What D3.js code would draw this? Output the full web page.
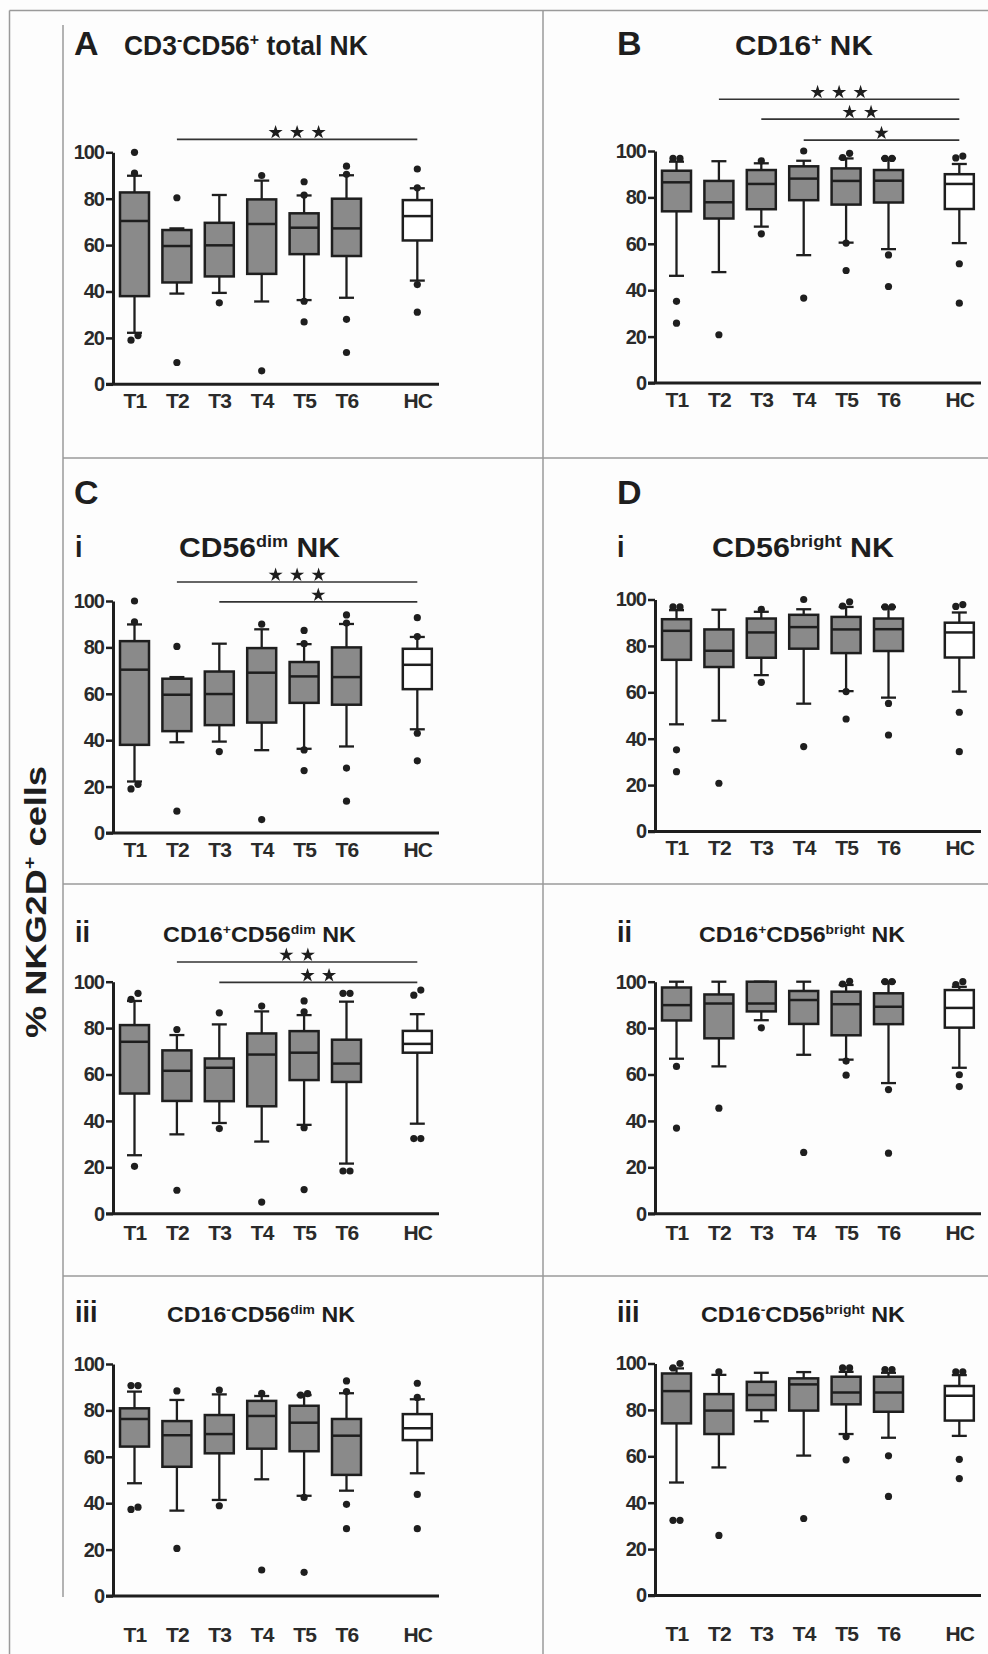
<!DOCTYPE html>
<html>
<head>
<meta charset="utf-8">
<script src="https://cdn.jsdelivr.net/npm/d3@7"></script>
<style>
  body { margin: 0; background: #fdfdfd; }
  svg { display: block; font-family: "Liberation Sans", Arial, sans-serif; }
</style>
</head>
<body>
<svg id="fig" width="988" height="1654"></svg>
<script>
// groups and y ticks
var categories = ["T1", "T2", "T3", "T4", "T5", "T6", "HC"];
var yTicks = [0, 20, 40, 60, 80, 100];

// box stats per group: [whisker low, q1, median, q3, whisker high]
// outliers per group, significance: [from group (to HC), height in %, stars]
var totalNK_box = [[22.2, 38, 70.4, 82.7, 89.9], [39.1, 43.9, 59.6, 66.5, 67.2], [39.4, 46.5, 59.9, 69.6, 81.6],
  [35.7, 47.6, 69.1, 79.7, 87.8], [36.3, 56.1, 67.5, 73.7, 81.4], [37.3, 55.3, 67.2, 80, 90.1], [44.7, 62, 72.5, 79.4, 84.5]];
var totalNK_out = [[100, 91, 21, 19], [80.4, 9.4], [35.1], [90, 5.8], [87.3, 81.6, 35.8, 26.9], [94, 90.5, 28, 13.7], [92.8, 84.7, 43, 31.1]];
var totalNK_sig = [["T2", 105.6, 3]];

var cd16_box = [[46.2, 74, 86.5, 91.5, 95.4], [47.8, 70.9, 77.9, 87.1, 95.6], [67.4, 74.9, 85.8, 91.8, 94.7],
  [55.1, 78.8, 88.1, 93.4, 95.8], [60.5, 76.9, 87.1, 92.5, 96.8], [57.7, 77.8, 87.2, 91.8, 96.8], [60.3, 75, 85.8, 90, 94.4]];
var cd16_out = [[96.8, 96.8, 35.2, 25.8], [20.8], [95.8, 64.3], [100, 36.6], [97.2, 99, 60.3, 48.5], [96.8, 96.8, 55.2, 41.6], [97, 97.8, 51.4, 34.4]];
var cd16_sig = [["T2", 122.3, 3], ["T3", 113.7, 2], ["T4", 104.7, 1]];

// CD56dim and CD56bright plots repeat the values shown in A and B
var cd56dim_box = totalNK_box, cd56dim_out = totalNK_out;
var cd56dim_sig = [["T2", 108.2, 3], ["T3", 99.6, 1]];
var cd56bright_box = cd16_box, cd56bright_out = cd16_out;

var dimPos_box = [[25.2, 51.8, 74.1, 81.3, 91.7], [34.2, 48.6, 61.6, 70.4, 77], [39.1, 48.5, 62.9, 66.9, 81.6],
  [31.1, 46.3, 68.6, 77.7, 87.2], [38.3, 57.6, 69.4, 78.7, 85.6], [21.6, 56.8, 64.7, 75, 91.4], [38.8, 69.4, 73.2, 78.8, 86]];
var dimPos_out = [[95, 92.4, 20.4], [79.4, 10.1], [86.6, 36.7], [89.5, 5], [91.7, 87, 37.1, 10.4], [95, 95, 18.4, 18.4], [96.4, 94.2, 32.4, 32.4]];
var dimPos_sig = [["T2", 108.5, 2], ["T3", 99.7, 2]];

var brightPos_box = [[66.8, 83.3, 89.9, 97.5, 100], [63.5, 75.6, 90.6, 94.5, 100], [83.4, 87.2, 90.6, 100, 100],
  [68.5, 81.8, 92.1, 96, 100], [66.4, 76.9, 90.3, 95.7, 98.6], [56.3, 81.7, 89.2, 95, 100], [62.9, 80.2, 88.7, 96.4, 97.8]];
var brightPos_out = [[63.5, 36.9], [45.5], [80.1], [26.4], [99, 100.2, 65.8, 59.7], [100, 100, 53.5, 26.1], [98.8, 100, 59.9, 54.8]];

var dimNeg_box = [[48.6, 64.4, 76.3, 80.9, 88.1], [36.8, 55.7, 69.3, 75.4, 84.5], [41.4, 61.5, 69.8, 78, 86.9],
  [50.3, 63.5, 77.6, 84.1, 86.2], [43.2, 62.4, 74.7, 82, 86.6], [45.4, 52.2, 69.1, 76.3, 87.4], [52.9, 67.2, 72.3, 78.4, 84.8]];
var dimNeg_out = [[90.7, 90.7, 37.3, 38.3], [88.4, 20.5], [88.8, 38.9], [87.4, 11.2], [86.6, 87.2, 42.5, 10.2], [92.7, 88.1, 39.5, 29], [91.7, 85.6, 43.8, 29]];

var brightNeg_box = [[48.7, 74.2, 88.1, 95.7, 97.9], [55.2, 69.6, 79.7, 86.8, 95.1], [75.1, 79.9, 86.4, 92.1, 96],
  [60.3, 79.7, 91, 93.6, 96.3], [69.6, 82.4, 87.5, 94.3, 96.4], [68, 79.2, 87.5, 94.3, 96], [68.8, 75.4, 86.1, 90.3, 95]];
var brightNeg_out = [[100, 98.1, 32.4, 32.4], [96.4, 25.9], [], [33.2], [98.1, 98.1, 68.5, 58.5], [97.4, 97.4, 60.2, 42.7], [96.4, 96.4, 58.7, 50.4]];

var svg = d3.select("#fig");
var ink = "#1e1e1e", boxGray = "#8a8a8a", frame = "#9a9a9a";
var colX = [113, 655];
var plotH = 232;

// GraphPad-style spacing: HC sits a bit apart from the time points
var slot = d3.scaleLinear().domain([0, 1]).range([21.5, 63.9]);
var x = d3.scaleOrdinal(categories, [0, 1, 2, 3, 4, 5, 6.67].map(slot));
var y = d3.scaleLinear().domain([0, 100]).range([plotH, 0]);

// frame of the figure
var frameLines = [[9.5, 10.5, 988, 10.5], [9.5, 10.5, 9.5, 1654], [543, 10.5, 543, 1654], [63, 25, 63, 1597],
  [63, 458, 988, 458], [63, 884, 988, 884], [63, 1276, 988, 1276]];
svg.append("g").selectAll("line").data(frameLines).enter().append("line")
  .attr("x1", function(d) { return d[0]; }).attr("y1", function(d) { return d[1]; })
  .attr("x2", function(d) { return d[2]; }).attr("y2", function(d) { return d[3]; })
  .attr("stroke", frame).attr("stroke-width", 1.5);

function spread(vals) {
  var s = vals.slice().sort(d3.ascending), res = [], i = 0;
  while (i < s.length) {
    var j = i;
    while (j + 1 < s.length && s[j + 1] - s[i] < 3) j++;
    var n = j - i + 1;
    for (var k = i; k <= j; k++) res.push({ v: s[k], dx: (k - i - (n - 1) / 2) * 7 });
    i = j + 1;
  }
  return res;
}

function drawPanel(p) {
  var g = svg.append("g").attr("transform", "translate(" + colX[p.col] + "," + p.top + ")");

  var ya = g.append("g").call(d3.axisLeft(y).tickValues(yTicks).tickSize(7).tickSizeOuter(0).tickPadding(2));
  ya.select(".domain").attr("stroke", ink).attr("stroke-width", 3);
  ya.selectAll(".tick line").attr("stroke", ink).attr("stroke-width", 2.5);
  ya.selectAll(".tick text").attr("fill", "#2a2a2a").attr("font-size", 20).attr("font-weight", "bold")
    .attr("letter-spacing", -1).attr("font-family", "Liberation Sans, Arial, sans-serif");

  g.append("line").attr("x1", -7).attr("x2", 326).attr("y1", plotH).attr("y2", plotH)
    .attr("stroke", ink).attr("stroke-width", 3);

  var xa = g.append("g").attr("transform", "translate(0," + plotH + ")")
    .call(d3.axisBottom(x).tickSize(0).tickPadding(p.gap - 15));
  xa.select(".domain").remove();
  xa.selectAll(".tick text").attr("fill", "#2a2a2a").attr("font-size", 21).attr("font-weight", "bold")
    .attr("letter-spacing", -0.8).attr("font-family", "Liberation Sans, Arial, sans-serif");

  var groups = g.selectAll(".grp").data(p.box).enter().append("g")
    .attr("transform", function(d, i) { return "translate(" + x(categories[i]) + ",0)"; });

  groups.append("line").attr("y1", function(d) { return y(d[0]); }).attr("y2", function(d) { return y(d[4]); })
    .attr("stroke", ink).attr("stroke-width", 2.3);
  [0, 4].forEach(function(k) {
    groups.append("line").attr("x1", -7.5).attr("x2", 7.5)
      .attr("y1", function(d) { return y(d[k]); }).attr("y2", function(d) { return y(d[k]); })
      .attr("stroke", ink).attr("stroke-width", 2.3);
  });
  groups.append("rect").attr("x", -14.5).attr("width", 29)
    .attr("y", function(d) { return y(d[3]); })
    .attr("height", function(d) { return y(d[1]) - y(d[3]); })
    .attr("fill", function(d, i) { return categories[i] === "HC" ? "#ffffff" : boxGray; })
    .attr("stroke", ink).attr("stroke-width", 2.5);
  groups.append("line").attr("x1", -14.5).attr("x2", 14.5)
    .attr("y1", function(d) { return y(d[2]); }).attr("y2", function(d) { return y(d[2]); })
    .attr("stroke", ink).attr("stroke-width", 2.5);

  groups.each(function(d, i) {
    d3.select(this).selectAll("circle").data(spread(p.out[i])).enter().append("circle")
      .attr("cx", function(o) { return o.dx; }).attr("cy", function(o) { return y(o.v); })
      .attr("r", 3.6).attr("fill", ink);
  });

  (p.sig || []).forEach(function(s) {
    var x1 = x(s[0]), x2 = x("HC"), yy = y(s[1]), mid = (x1 + x2) / 2;
    g.append("line").attr("x1", x1).attr("x2", x2).attr("y1", yy).attr("y2", yy)
      .attr("stroke", "#333").attr("stroke-width", 1.7);
    d3.range(s[2]).forEach(function(k) {
      g.append("path").attr("d", d3.symbol(d3.symbolStar, 62)())
        .attr("transform", "translate(" + (mid + (k - (s[2] - 1) / 2) * 21.5) + "," + (yy - 7) + ")")
        .attr("fill", ink);
    });
  });
}

var panels = [
  { col: 0, top: 152.3, box: totalNK_box, out: totalNK_out, sig: totalNK_sig, gap: 24 },
  { col: 1, top: 151, box: cd16_box, out: cd16_out, sig: cd16_sig, gap: 24 },
  { col: 0, top: 601, box: cd56dim_box, out: cd56dim_out, sig: cd56dim_sig, gap: 24 },
  { col: 1, top: 599.5, box: cd56bright_box, out: cd56bright_out, gap: 24 },
  { col: 0, top: 981.7, box: dimPos_box, out: dimPos_out, sig: dimPos_sig, gap: 26 },
  { col: 1, top: 981.7, box: brightPos_box, out: brightPos_out, gap: 26 },
  { col: 0, top: 1364, box: dimNeg_box, out: dimNeg_out, gap: 46 },
  { col: 1, top: 1363.5, box: brightNeg_box, out: brightNeg_out, gap: 46 }
];
panels.forEach(drawPanel);

// titles: condensed look by squeezing regular bold text to the measured width
function label(px, py, parts, size, width, rot) {
  var t = svg.append("text").attr("font-weight", "bold").attr("font-size", size).attr("fill", ink);
  var shift = 0;
  parts.forEach(function(s) {
    var sp = t.append("tspan");
    if (typeof s === "string") {
      sp.text(s);
      if (shift) sp.attr("dy", shift);
      shift = 0;
    } else {
      sp.attr("font-size", size * 0.6).attr("dy", -size * 0.38).text(s[0]);
      shift = size * 0.38;
    }
  });
  var sx = width ? width / t.node().getComputedTextLength() : 1;
  if (rot) t.attr("text-anchor", "middle");
  t.attr("transform", "translate(" + px + "," + py + ")" + (rot ? " rotate(-90)" : "") + " scale(" + sx + ",1)");
}

label(74, 55, ["A"], 34);
label(617, 55, ["B"], 34);
label(74, 504, ["C"], 34);
label(617, 504, ["D"], 34);
[["i", 557], ["ii", 942], ["iii", 1322]].forEach(function(r) {
  label(75, r[1], [r[0]], 30, r[0].length * 7.5);
  label(617, r[1], [r[0]], 30, r[0].length * 7.5);
});

label(124, 55, ["CD3", ["-"], "CD56", ["+"], " total NK"], 27.5, 244);
label(735, 55, ["CD16", ["+"], " NK"], 27.5, 138);
label(179, 557, ["CD56", ["dim"], " NK"], 27.5, 161);
label(712, 557, ["CD56", ["bright"], " NK"], 27.5, 182);
label(163, 942, ["CD16", ["+"], "CD56", ["dim"], " NK"], 21.5, 193);
label(699, 942, ["CD16", ["+"], "CD56", ["bright"], " NK"], 21.5, 206);
label(167, 1322, ["CD16", ["-"], "CD56", ["dim"], " NK"], 21.5, 188);
label(701, 1322, ["CD16", ["-"], "CD56", ["bright"], " NK"], 21.5, 204);

label(46, 902, ["% NKG2D", ["+"], " cells"], 29, 272, true);
</script>
</body>
</html>
